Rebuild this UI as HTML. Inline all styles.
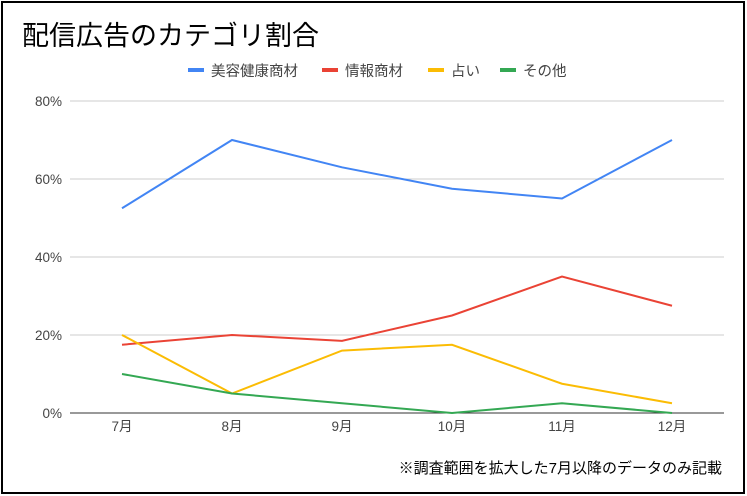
<!DOCTYPE html>
<html><head><meta charset="utf-8"><style>
html,body{margin:0;padding:0;background:#fff;}
#wrap{position:relative;width:747px;height:496px;overflow:hidden;}
svg{position:absolute;left:0;top:0;}
text{font-family:"Liberation Sans","Noto Sans CJK JP",sans-serif;}
</style></head><body>
<div id="wrap">
<svg id="chart" width="747" height="496">
<rect x="2" y="2" width="742" height="491" fill="#fff" stroke="#000" stroke-width="2"/>
<text x="22" y="45" font-size="27" fill="#000">配信広告のカテゴリ割合</text>
<text x="722" y="473" font-size="15" fill="#000" text-anchor="end">※調査範囲を拡大した7月以降のデータのみ記載</text>
</svg>
</div>
<script>
const categories=["7月","8月","9月","10月","11月","12月"];
const seriesNames=["美容健康商材","情報商材","占い","その他"];
const beauty=[52.5,70,63,57.5,55,70];
const info=[17.5,20,18.5,25,35,27.5];
const fortune=[20,5,16,17.5,7.5,2.5];
const other=[10,5,2.5,0,2.5,0];
const yTicks=[0,20,40,60,80];
const colors=["#4285f4","#ea4335","#fbbc04","#34a853"];
const NS="http://www.w3.org/2000/svg";
const svg=document.getElementById("chart");
const x0=122,dx=110,yBase=413,yTop=101,yMax=80;
function xs(i){return x0+i*dx;}
function ys(v){return yBase-(v/yMax)*(yBase-yTop);}
function mk(tag,attrs){const e=document.createElementNS(NS,tag);for(const k in attrs)e.setAttribute(k,attrs[k]);svg.appendChild(e);return e;}
yTicks.forEach(t=>{
  const g=mk("line",{x1:70,x2:724,y1:ys(t),y2:ys(t),stroke:t===0?"#333":"#ccc","stroke-width":1});
  
  
  const l=mk("text",{x:62,y:ys(t)+5,"font-size":13.5,fill:"#444","text-anchor":"end"});
  l.textContent=t+"%";
  
  
});
categories.forEach((c,i)=>{
  const l=mk("text",{x:xs(i),y:431,"font-size":13.5,fill:"#444","text-anchor":"middle"});
  l.textContent=c;
  
  
});
[beauty,info,fortune,other].forEach((s,k)=>{
  const p=mk("polyline",{points:s.map((v,i)=>xs(i)+","+ys(v)).join(" "),fill:"none",stroke:colors[k],"stroke-width":2});
  
  
});
const lx=[188,322,428,500];
seriesNames.forEach((n,k)=>{
  const r=mk("rect",{x:lx[k],y:68,width:16,height:4,fill:colors[k]});
  
  
  const t=mk("text",{x:lx[k]+23,y:76,"font-size":14.5,fill:"#444"});
  t.textContent=n;
  
  
});
</script>
</body></html>
